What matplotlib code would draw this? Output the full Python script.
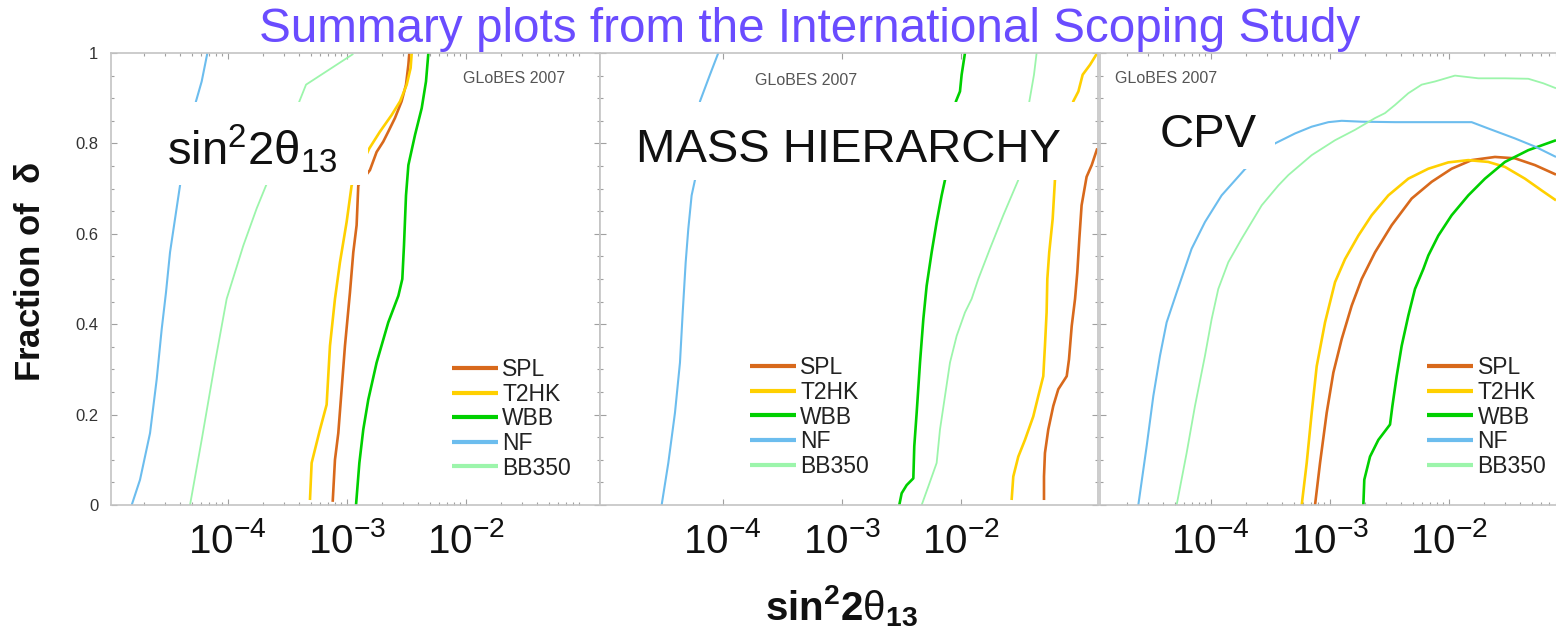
import numpy as np
import matplotlib
matplotlib.use('Agg')
import matplotlib.pyplot as plt
from matplotlib.patches import Rectangle
from matplotlib.ticker import MultipleLocator, FixedLocator, FuncFormatter, LogLocator, NullFormatter

plt.rcParams['font.family'] = ['Liberation Sans', 'DejaVu Sans']
plt.rcParams['mathtext.fontset'] = 'custom'
plt.rcParams['mathtext.rm'] = 'Liberation Sans'
plt.rcParams['mathtext.it'] = 'Liberation Sans:italic'
plt.rcParams['mathtext.bf'] = 'Liberation Sans:bold'

# ---------------- data ----------------
series_names = ['SPL', 'T2HK', 'WBB', 'NF', 'BB350']
series_colors = ['#d8691c', '#ffd000', '#00d000', '#6cbdee', '#9cf5ab']
series_widths = [1.9, 1.9, 1.9, 1.5, 1.3]

panel_titles = [r'$\mathrm{sin^{2}2\theta_{13}}$', 'MASS HIERARCHY', 'CPV']
xtick_values = [1e-4, 1e-3, 1e-2]
ytick_values = [0, 0.2, 0.4, 0.6, 0.8, 1.0]

# Panel 1: sin^2 2theta13 discovery (log10 sin^2 2theta13, fraction of delta)
th13_spl_log = [-3.117, -3.098, -3.070, -3.014, -2.972, -2.944, -2.916, -2.902, -2.804, -2.748, -2.692, -2.650, -2.594, -2.538, -2.501, -2.481, -2.473]
th13_spl_frac = [0.007, 0.100, 0.159, 0.352, 0.470, 0.559, 0.619, 0.707, 0.741, 0.781, 0.804, 0.826, 0.856, 0.893, 0.930, 0.974, 1.0]
th13_t2hk_log = [-3.308, -3.294, -3.224, -3.168, -3.140, -3.098, -3.056, -3.000, -2.958, -2.809, -2.720, -2.621, -2.551, -2.495, -2.462, -2.453]
th13_t2hk_frac = [0.011, 0.093, 0.167, 0.222, 0.352, 0.456, 0.537, 0.626, 0.707, 0.789, 0.826, 0.863, 0.893, 0.930, 0.967, 1.0]
th13_wbb_log = [-2.921, -2.893, -2.860, -2.818, -2.748, -2.650, -2.565, -2.532, -2.518, -2.501, -2.481, -2.425, -2.369, -2.333, -2.313]
th13_wbb_frac = [0.0, 0.093, 0.167, 0.233, 0.315, 0.404, 0.463, 0.500, 0.574, 0.685, 0.752, 0.819, 0.878, 0.937, 1.0]
th13_nf_log = [-4.806, -4.736, -4.652, -4.596, -4.554, -4.518, -4.484, -4.442, -4.400, -4.266, -4.218, -4.170]
th13_nf_frac = [0.0, 0.056, 0.159, 0.278, 0.389, 0.470, 0.559, 0.633, 0.707, 0.893, 0.937, 1.0]
th13_bb350_log = [-4.316, -4.218, -4.106, -4.008, -3.868, -3.756, -3.677, -3.397, -3.341, -2.944]
th13_bb350_frac = [0.0, 0.144, 0.315, 0.456, 0.574, 0.656, 0.707, 0.893, 0.930, 0.998]

# Panel 2: mass hierarchy
mh_spl_log = [-1.299, -1.299, -1.291, -1.263, -1.221, -1.179, -1.108, -1.089, -1.066, -1.038, -1.019, -1.002, -0.983, -0.963, -0.941, -0.898, -0.851]
mh_spl_frac = [0.011, 0.063, 0.115, 0.167, 0.219, 0.256, 0.285, 0.322, 0.396, 0.456, 0.515, 0.589, 0.663, 0.693, 0.726, 0.752, 0.789]
mh_t2hk_log = [-1.571, -1.557, -1.515, -1.459, -1.389, -1.347, -1.305, -1.291, -1.277, -1.271, -1.255, -1.226, -1.207, -1.053, -1.010, -0.974, -0.912, -0.856]
mh_t2hk_frac = [0.011, 0.063, 0.107, 0.144, 0.196, 0.241, 0.285, 0.352, 0.426, 0.500, 0.559, 0.633, 0.719, 0.893, 0.915, 0.952, 0.974, 0.998]
mh_wbb_log = [-2.515, -2.495, -2.453, -2.397, -2.389, -2.369, -2.341, -2.313, -2.285, -2.243, -2.201, -2.159, -2.131, -2.039, -2.005, -1.991, -1.963]
mh_wbb_frac = [0.0, 0.026, 0.044, 0.059, 0.130, 0.204, 0.315, 0.411, 0.485, 0.559, 0.626, 0.685, 0.719, 0.893, 0.915, 0.952, 1.0]
mh_nf_log = [-4.512, -4.456, -4.400, -4.358, -4.335, -4.310, -4.288, -4.260, -4.232, -4.190, -4.106, -4.036]
mh_nf_frac = [0.0, 0.093, 0.204, 0.315, 0.426, 0.537, 0.611, 0.685, 0.719, 0.893, 0.952, 1.0]
mh_bb350_log = [-2.327, -2.271, -2.201, -2.173, -2.131, -2.089, -2.033, -1.963, -1.907, -1.851, -1.753, -1.641, -1.515, -1.422, -1.383, -1.361]
mh_bb350_frac = [0.0, 0.041, 0.093, 0.167, 0.241, 0.315, 0.374, 0.426, 0.456, 0.500, 0.567, 0.641, 0.719, 0.893, 0.952, 1.0]

# Panel 3: CP violation
cpv_spl_log = [-3.123, -3.081, -3.025, -2.969, -2.899, -2.815, -2.731, -2.619, -2.479, -2.311, -2.143, -1.975, -1.807, -1.611, -1.443, -1.275, -1.098]
cpv_spl_frac = [0.0, 0.093, 0.204, 0.293, 0.367, 0.441, 0.500, 0.559, 0.619, 0.678, 0.715, 0.744, 0.763, 0.770, 0.767, 0.752, 0.731]
cpv_t2hk_log = [-3.235, -3.193, -3.151, -3.109, -3.039, -2.955, -2.871, -2.759, -2.647, -2.507, -2.339, -2.171, -2.003, -1.835, -1.667, -1.527, -1.359, -1.219, -1.098]
cpv_t2hk_frac = [0.0, 0.093, 0.204, 0.307, 0.404, 0.493, 0.544, 0.596, 0.641, 0.685, 0.722, 0.744, 0.758, 0.763, 0.759, 0.748, 0.722, 0.696, 0.674]
cpv_wbb_log = [-2.717, -2.709, -2.661, -2.591, -2.493, -2.473, -2.437, -2.395, -2.339, -2.283, -2.213, -2.171, -2.087, -1.975, -1.835, -1.695, -1.527, -1.331, -1.098]
cpv_wbb_frac = [0.0, 0.056, 0.107, 0.144, 0.178, 0.219, 0.285, 0.352, 0.419, 0.478, 0.522, 0.552, 0.596, 0.641, 0.685, 0.722, 0.759, 0.785, 0.807]
cpv_nf_log = [-4.608, -4.538, -4.482, -4.426, -4.370, -4.286, -4.160, -4.048, -3.908, -3.712, -3.459, -3.291, -3.151, -3.011, -2.899, -2.731, -2.451, -2.031, -1.807, -1.667, -1.443, -1.275, -1.098]
cpv_nf_frac = [0.0, 0.130, 0.241, 0.330, 0.404, 0.470, 0.567, 0.626, 0.685, 0.743, 0.800, 0.822, 0.837, 0.847, 0.850, 0.848, 0.847, 0.847, 0.847, 0.833, 0.811, 0.793, 0.770]
cpv_bb350_log = [-4.286, -4.202, -4.132, -4.048, -3.992, -3.936, -3.852, -3.740, -3.571, -3.431, -3.347, -3.151, -2.955, -2.787, -2.619, -2.535, -2.451, -2.339, -2.227, -2.115, -1.947, -1.751, -1.527, -1.331, -1.205, -1.098]
cpv_bb350_frac = [0.0, 0.115, 0.219, 0.330, 0.411, 0.478, 0.537, 0.589, 0.663, 0.707, 0.730, 0.774, 0.807, 0.830, 0.856, 0.867, 0.885, 0.911, 0.930, 0.937, 0.950, 0.944, 0.944, 0.943, 0.933, 0.922]

panel_curves = [
    [(th13_spl_log, th13_spl_frac), (th13_t2hk_log, th13_t2hk_frac), (th13_wbb_log, th13_wbb_frac),
     (th13_nf_log, th13_nf_frac), (th13_bb350_log, th13_bb350_frac)],
    [(mh_spl_log, mh_spl_frac), (mh_t2hk_log, mh_t2hk_frac), (mh_wbb_log, mh_wbb_frac),
     (mh_nf_log, mh_nf_frac), (mh_bb350_log, mh_bb350_frac)],
    [(cpv_spl_log, cpv_spl_frac), (cpv_t2hk_log, cpv_t2hk_frac), (cpv_wbb_log, cpv_wbb_frac),
     (cpv_nf_log, cpv_nf_frac), (cpv_bb350_log, cpv_bb350_frac)],
]

# ---------------- layout ----------------
W, H = 1556, 632
fig = plt.figure(figsize=(W / 100, H / 100), dpi=100)
fig.patch.set_facecolor('white')

ax_top_px, ax_bot_px = 53, 505
panel_px = [(111, 489, -4.98), (600, 498, -5.03), (1100, 498, -4.93)]  # left px, width px, log10 xmin
px_per_decade = 119.0

box_rects = [(0.080, 0.708, 0.446, 0.184), (0.040, 0.719, 0.920, 0.173), (0.080, 0.743, 0.271, 0.164)]
title_pos = [(0.1145, 0.752, 'left', 34), (0.5, 0.7595, 'center', 34), (0.1205, 0.7927, 'left', 34)]
globes_pos = [(0.720, 0.934), (0.311, 0.929), (0.030, 0.934)]
legend_pos = [(0.697, 0.325), (0.301, 0.329), (0.657, 0.329)]

spine_col = '#c4c4c4'
tick_col = '#a0a0a0'

axes = []
for i, (lpx, wpx, lmin) in enumerate(panel_px):
    ax = fig.add_axes([lpx / W, 1 - ax_bot_px / H, wpx / W, (ax_bot_px - ax_top_px) / H])
    axes.append(ax)
    ax.set_xscale('log')
    lmax = lmin + wpx / px_per_decade
    ax.set_xlim(10 ** lmin, 10 ** lmax)
    ax.set_ylim(0, 1)

    handles = []
    for (lg, fr), name, col, lw in zip(panel_curves[i], series_names, series_colors, series_widths):
        h, = ax.plot(10 ** np.asarray(lg), fr, color=col, lw=lw, label=name, zorder=2,
                     solid_joinstyle='round', solid_capstyle='butt')
        handles.append(h)

    # white boxes behind the panel titles (they hide the curves there)
    bx, by, bw, bh = box_rects[i]
    ax.add_patch(Rectangle((bx, by), bw, bh, transform=ax.transAxes, facecolor='white',
                           edgecolor='none', zorder=3))
    tx, ty, tha, tfs = title_pos[i]
    ax.text(tx, ty, panel_titles[i], transform=ax.transAxes, ha=tha, va='baseline',
            fontsize=tfs, color='#111111', zorder=4)
    gx, gy = globes_pos[i]
    ax.text(gx, gy, 'GLoBES 2007', transform=ax.transAxes, ha='left', va='baseline',
            fontsize=11.5, color='#555555', zorder=4)

    lx, ly = legend_pos[i]
    leg = ax.legend(handles=handles, loc='upper left', bbox_to_anchor=(lx, ly),
                    bbox_transform=ax.transAxes, frameon=False, fontsize=16.5,
                    handlelength=2.0, handletextpad=0.2, labelspacing=0.07,
                    borderpad=0, borderaxespad=0)
    for t in leg.get_texts():
        t.set_color('#222222')
    for lh in leg.get_lines():
        lh.set_linewidth(3.0)

    for s in ax.spines.values():
        s.set_color(spine_col)
        s.set_linewidth(1.2)
    ax.xaxis.set_major_locator(FixedLocator(xtick_values))
    ax.xaxis.set_minor_locator(LogLocator(base=10, subs=np.arange(2, 10)))
    ax.xaxis.set_minor_formatter(NullFormatter())
    ax.xaxis.set_major_formatter(FuncFormatter(lambda v, p: r'$\mathregular{10^{%d}}$' % int(round(np.log10(v)))))
    ax.yaxis.set_major_locator(FixedLocator(ytick_values))
    ax.yaxis.set_minor_locator(MultipleLocator(0.05))
    ax.tick_params(which='both', direction='in', top=True, right=True, color=tick_col, width=0.8)
    ax.tick_params(which='major', length=4)
    ax.tick_params(which='minor', length=2.5)
    ax.tick_params(axis='x', which='major', labelsize=29, pad=12, labelcolor='#111111')
    if i == 0:
        ax.yaxis.set_major_formatter(FuncFormatter(lambda v, p: '%g' % v))
        ax.tick_params(axis='y', labelsize=12, pad=9, labelcolor='#333333')
    else:
        ax.tick_params(axis='y', labelleft=False)

fig.text(810 / W, 1 - 42 / H, 'Summary plots from the International Scoping Study',
         ha='center', va='baseline', fontsize=34.3, color='#6a4cff')
fig.text(31 / W, 1 - 272 / H, r'Fraction of  $\mathregular{\delta}$', rotation=90,
         ha='center', va='center', fontsize=25, fontweight='bold', color='#111111')
fig.text(841 / W, 1 - 620 / H, r'$\mathbf{sin^{2}2}\mathregular{\theta}_{\mathbf{13}}$',
         ha='center', va='baseline', fontsize=29, color='#111111')

fig.savefig('out.png', dpi=100, facecolor='white')
